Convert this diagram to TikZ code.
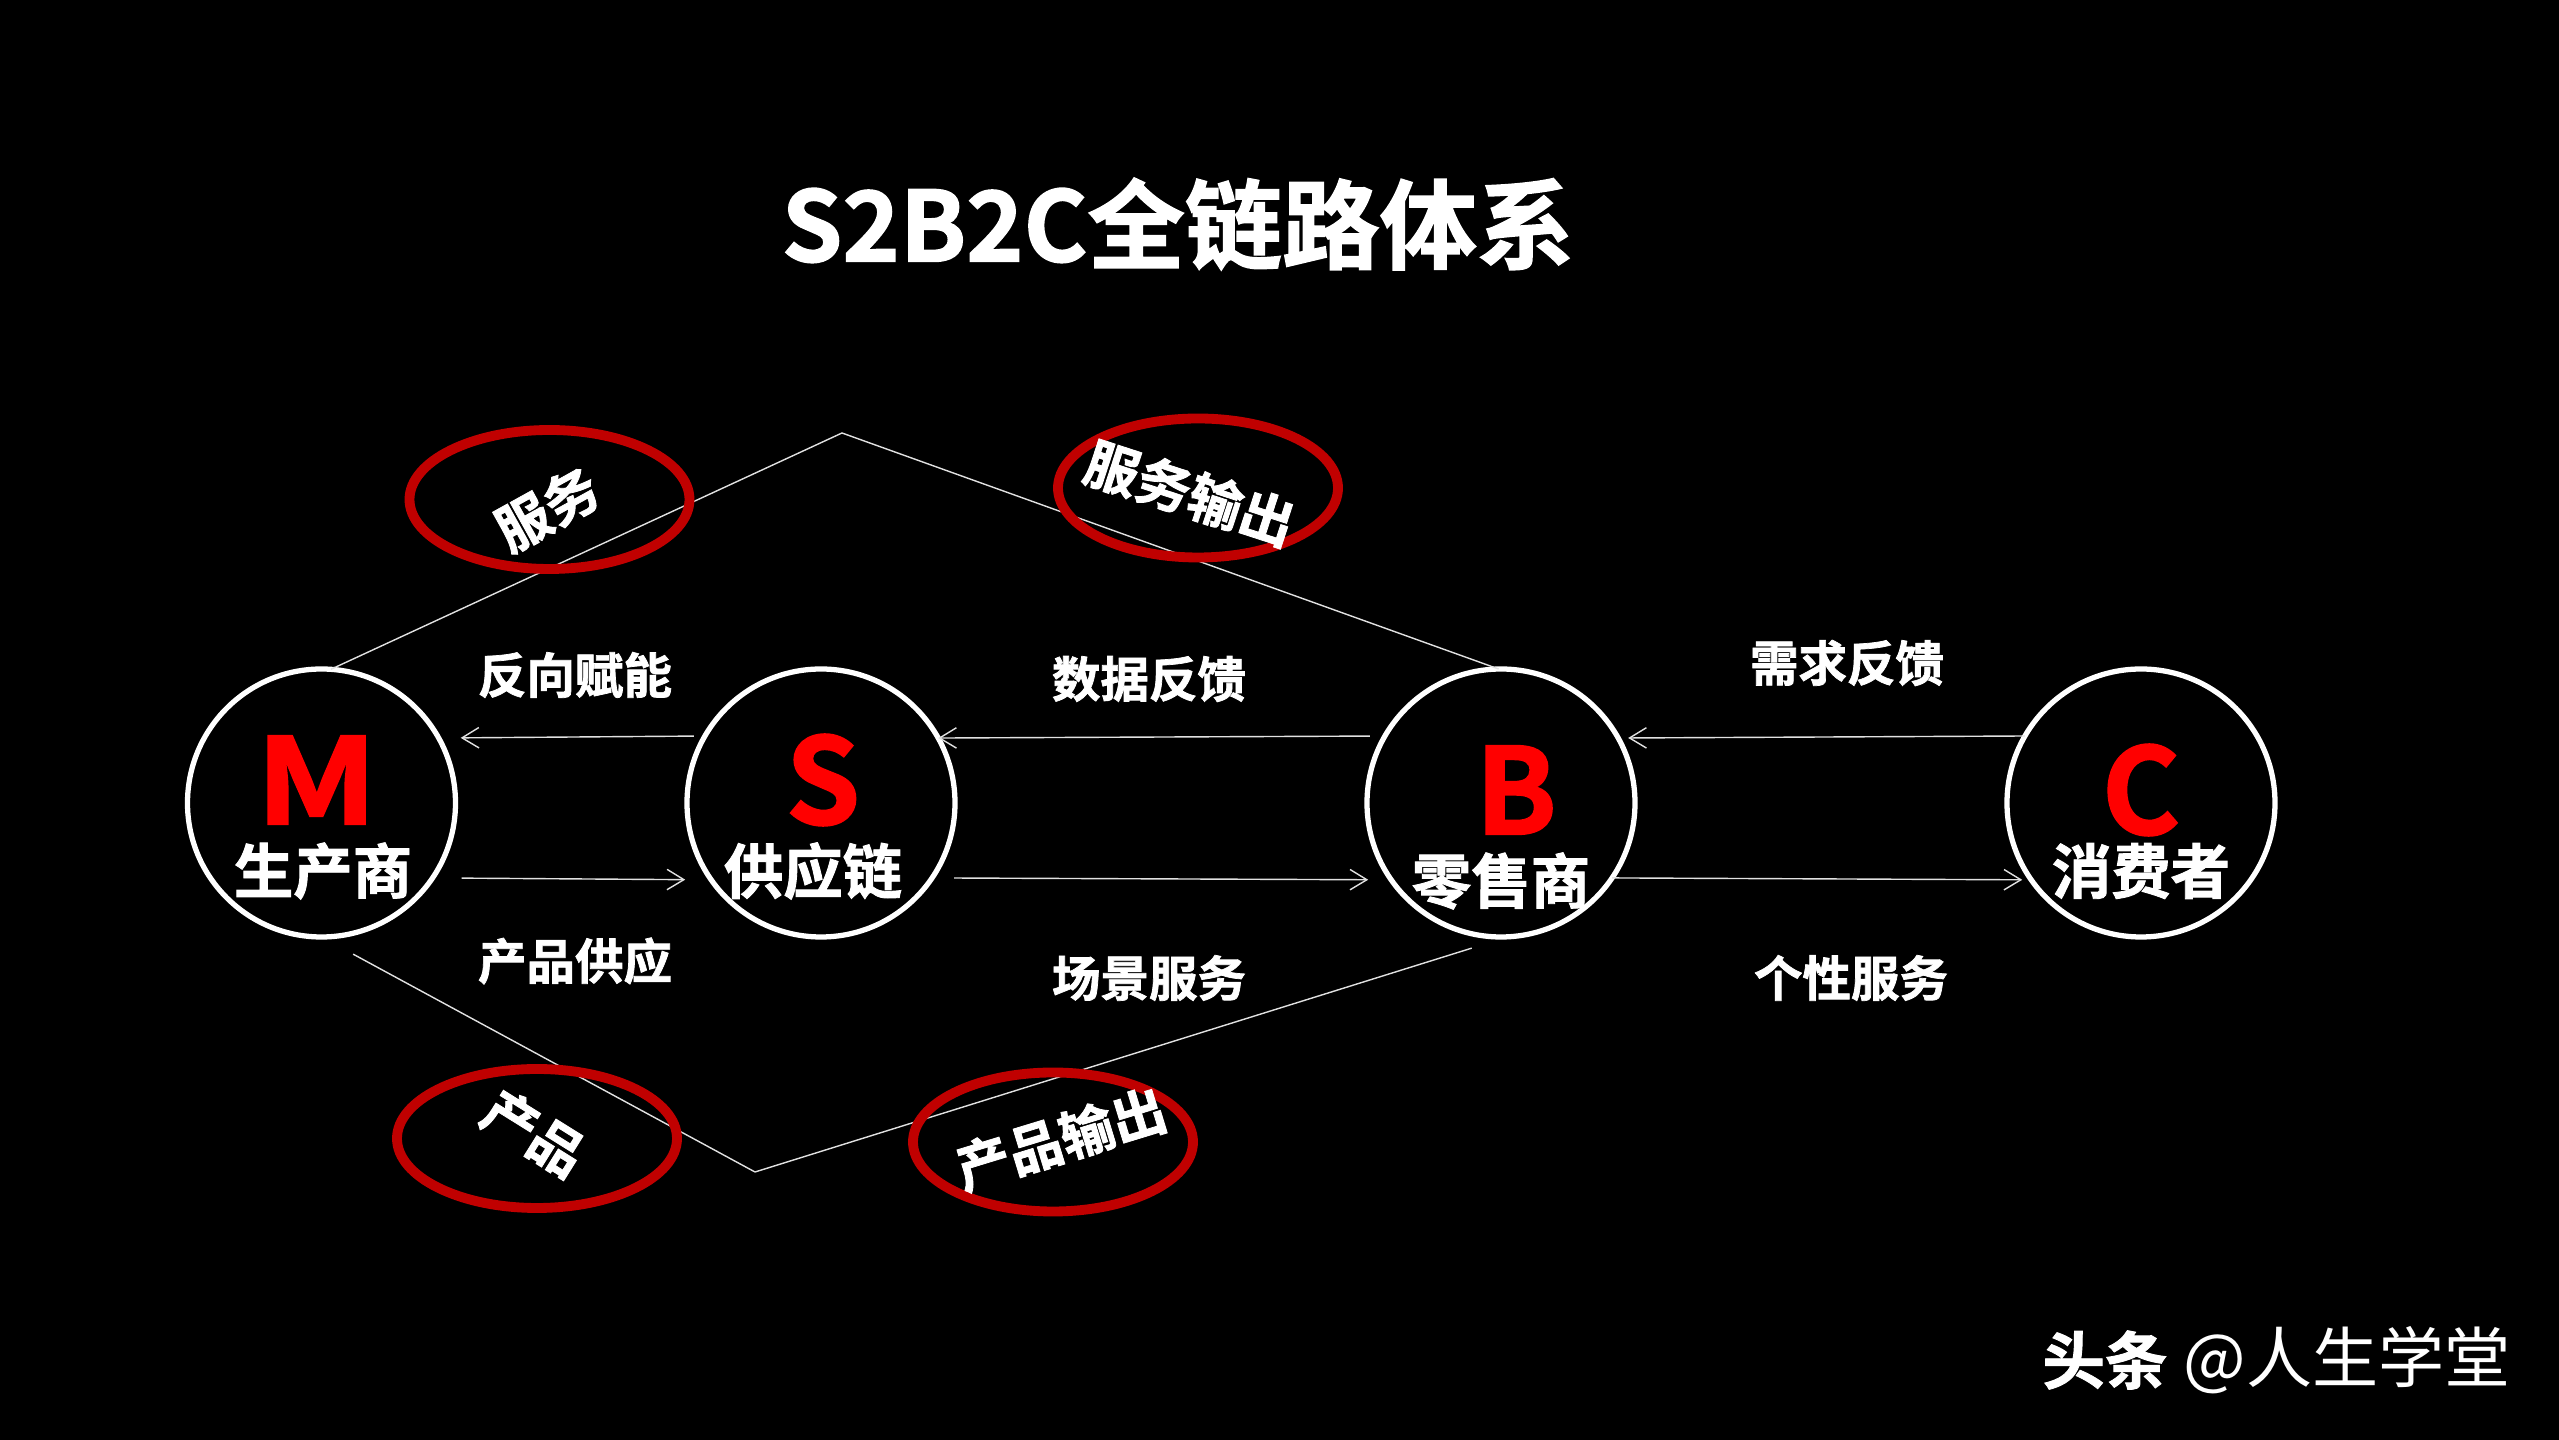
\documentclass[tikz,border=0pt]{standalone}
\usepackage{fontspec}
\setmainfont{Noto Sans CJK SC}[BoldFont={Noto Sans CJK SC Bold},BoldFeatures={FakeBold=1.5}]
\definecolor{RingRed}{RGB}{192,0,0}
\definecolor{LetterRed}{RGB}{255,0,0}
\definecolor{FlowLine}{RGB}{225,225,225}
\usetikzlibrary{
  positioning,
  arrows.meta,
  shapes.geometric
}
\tikzset{
  % Role circle
  role/.style={
    circle,
    draw=white,
    line width=1.5pt,
    minimum size=2.68cm,
    inner sep=0pt,
    outer sep=0pt
  },
  % Red letter in a role circle
  letter/.style={
    text=LetterRed,
    inner sep=0pt,
    font=\fontsize{34}{34}\selectfont\bfseries
  },
  % Name under the letter
  rolename/.style={
    text=white,
    inner sep=0pt,
    font=\fontsize{16.9}{16.9}\selectfont\bfseries
  },
  % Label over or under a flow
  flowlabel/.style={
    text=white,
    inner sep=0pt,
    font=\fontsize{13.8}{13.8}\selectfont\bfseries
  },
  % Red ring
  ring/.style={
    ellipse,
    draw=RingRed,
    line width=2.8pt,
    minimum width=2.8cm,
    minimum height=1.39cm,
    inner sep=0pt
  },
  % Tilted text in a ring
  ringtext/.style={
    text=white,
    inner sep=0pt,
    font=\fontsize{15.4}{15.4}\selectfont\bfseries
  },
  % Thin arrow
  flow/.style={
    draw=FlowLine,
    line width=0.4pt,
    -{Straight Barb[length=4.8pt,width=5.8pt]}
  },
  % Thin polyline
  route/.style={
    draw=FlowLine,
    line width=0.4pt
  }
}

\begin{document}
\begin{tikzpicture}
  \useasboundingbox (0, 0) rectangle (25.59, 14.40);
  \fill[black] (0, 0) rectangle (25.59, 14.40);

  % Title
  \node[text=white, inner sep=0pt, font=\fontsize{27.7}{27.7}\selectfont\bfseries] (title) at (11.78, 12.16) {S2B2C全链路体系};

  % The four roles
  \node[role] (m) at (3.215, 6.37) {};
  \node[role] (s) at (8.21, 6.37) {};
  \node[role] (b) at (15.01, 6.37) {};
  \node[role] (c) at (21.41, 6.37) {};

  \node[letter] (mletter) at (3.165, 6.60) {\scalebox{1.2}[1]{M}};
  \node[letter] (sletter) at (8.23, 6.60) {S};
  \node[letter] (bletter) at (15.16, 6.50) {B};
  \node[letter] (cletter) at (21.41, 6.50) {C};

  \node[rolename] (mname) at (3.23, 5.69) {生产商};
  \node[rolename] (sname) at (8.13, 5.69) {供应链};
  \node[rolename] (bname) at (15.01, 5.59) {零售商};
  \node[rolename] (cname) at (21.41, 5.69) {消费者};

  % Flows between the roles
  \draw[flow, shorten <=0.11cm, shorten >=0.22cm] (s.150.5) -- (m.29.5);
  \draw[flow, shorten <=0.15cm] (b.150.5) -- (s.29.5);
  \draw[flow, shorten >=0.10cm] (c.150.5) -- (b.29.5);
  \draw[flow, shorten <=0.29cm, shorten >=0.26cm] (m.-34.5) -- (s.-145.5);
  \draw[flow, shorten <=0.22cm, shorten >=0.23cm] (s.-34.5) -- (b.-145.5);
  \draw[flow, shorten >=0.09cm] (b.-34.5) -- (c.-145.5);

  \node[flowlabel] (feedback) at (5.75, 7.65) {反向赋能};
  \node[flowlabel] (data) at (11.49, 7.61) {数据反馈};
  \node[flowlabel] (demand) at (18.47, 7.77) {需求反馈};
  \node[flowlabel] (supply) at (5.75, 4.79) {产品供应};
  \node[flowlabel] (scene) at (11.49, 4.62) {场景服务};
  \node[flowlabel] (custom) at (18.51, 4.62) {个性服务};

  % Outer routes
  \coordinate (apex) at (8.42, 10.07);
  \coordinate (dip) at (7.55, 2.68);
  \draw[route] (m.86) -- (apex) -- (b.91);
  \draw[route, shorten <=0.36cm] (m.south) -- (dip);
  \draw[route, shorten <=0.38cm] (b.-87) -- (dip);

  % Red rings with tilted text
  \node[ring] (servicering) at (5.495, 9.405) {};
  \node[ring] (outputring) at (11.98, 9.52) {};
  \node[ring] (productring) at (5.37, 3.015) {};
  \node[ring] (goodsring) at (10.53, 2.98) {};

  \node[ringtext, rotate=29] (service) at (5.47, 9.31) {服务};
  \node[ringtext, rotate=-18] (serviceout) at (11.90, 9.47) {服务输出};
  \node[ringtext, rotate=-32] (product) at (5.34, 3.07) {产品};
  \node[ringtext, rotate=17] (productout) at (10.61, 3.01) {产品输出};

  % Watermark
  \node[text=white, inner sep=0pt, font=\fontsize{17.8}{17.8}\selectfont\bfseries] (brand) at (21.05, 0.80) {头条};
  \node[text=white, inner sep=0pt, font=\fontsize{18.8}{18.8}\selectfont, right=0.15cm of brand] (account) {@人生学堂};
\end{tikzpicture}
\end{document}
